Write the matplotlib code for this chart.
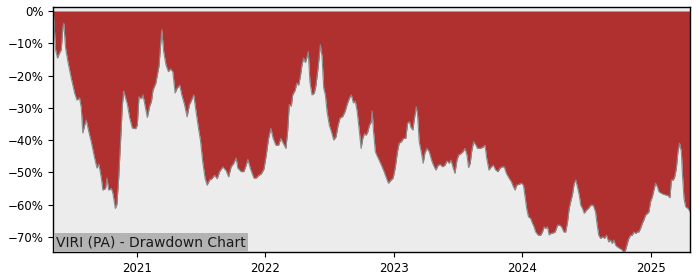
import matplotlib
matplotlib.use("Agg")
import matplotlib.pyplot as plt
from matplotlib.ticker import PercentFormatter

# Decimal-year dates and drawdown values (%)
date_years = [
    2020.349, 2020.353, 2020.369, 2020.384, 2020.400, 2020.413, 2020.426, 2020.433, 2020.447, 2020.465,
    2020.491, 2020.517, 2020.535, 2020.556, 2020.569, 2020.581, 2020.595, 2020.608, 2020.628, 2020.647,
    2020.673, 2020.691, 2020.706, 2020.725, 2020.737, 2020.758, 2020.769, 2020.782, 2020.803, 2020.815,
    2020.834, 2020.846, 2020.860, 2020.873, 2020.889, 2020.899, 2020.914, 2020.928, 2020.945, 2020.966,
    2020.992, 2021.005, 2021.018, 2021.037, 2021.049, 2021.068, 2021.083, 2021.101, 2021.115, 2021.127,
    2021.148, 2021.174, 2021.195, 2021.210, 2021.228, 2021.247, 2021.263, 2021.281, 2021.299, 2021.314,
    2021.335, 2021.351, 2021.372, 2021.392, 2021.411, 2021.423, 2021.444, 2021.462, 2021.481, 2021.496,
    2021.514, 2021.532, 2021.548, 2021.567, 2021.585, 2021.606, 2021.626, 2021.645, 2021.670, 2021.696,
    2021.715, 2021.735, 2021.754, 2021.774, 2021.787, 2021.813, 2021.834, 2021.852, 2021.865, 2021.886,
    2021.912, 2021.930, 2021.949, 2021.969, 2021.990, 2022.008, 2022.026, 2022.044, 2022.062, 2022.083,
    2022.104, 2022.122, 2022.140, 2022.161, 2022.175, 2022.187, 2022.203, 2022.214, 2022.234, 2022.245,
    2022.260, 2022.273, 2022.286, 2022.299, 2022.312, 2022.323, 2022.335, 2022.348, 2022.364, 2022.382,
    2022.395, 2022.413, 2022.429, 2022.442, 2022.455, 2022.468, 2022.481, 2022.499, 2022.518, 2022.533,
    2022.551, 2022.567, 2022.582, 2022.603, 2022.621, 2022.637, 2022.655, 2022.670, 2022.686, 2022.701,
    2022.715, 2022.733, 2022.746, 2022.759, 2022.772, 2022.785, 2022.798, 2022.811, 2022.824, 2022.832,
    2022.842, 2022.857, 2022.868, 2022.886, 2022.904, 2022.925, 2022.943, 2022.959, 2022.977, 2022.995,
    2023.011, 2023.029, 2023.042, 2023.060, 2023.076, 2023.094, 2023.107, 2023.122, 2023.133, 2023.149,
    2023.159, 2023.175, 2023.185, 2023.198, 2023.216, 2023.229, 2023.242, 2023.258, 2023.276, 2023.294,
    2023.309, 2023.328, 2023.346, 2023.362, 2023.380, 2023.398, 2023.414, 2023.432, 2023.445, 2023.463,
    2023.476, 2023.492, 2023.504, 2023.523, 2023.539, 2023.554, 2023.570, 2023.582, 2023.595, 2023.606,
    2023.621, 2023.640, 2023.652, 2023.671, 2023.691, 2023.710, 2023.723, 2023.741, 2023.759, 2023.775,
    2023.793, 2023.811, 2023.827, 2023.845, 2023.860, 2023.876, 2023.897, 2023.915, 2023.931, 2023.944,
    2023.956, 2023.975, 2023.995, 2024.009, 2024.022, 2024.034, 2024.048, 2024.065, 2024.079, 2024.092,
    2024.104, 2024.125, 2024.143, 2024.157, 2024.170, 2024.182, 2024.196, 2024.209, 2024.221, 2024.240,
    2024.256, 2024.274, 2024.292, 2024.307, 2024.323, 2024.338, 2024.352, 2024.365, 2024.377, 2024.390,
    2024.404, 2024.416, 2024.429, 2024.443, 2024.455, 2024.468, 2024.482, 2024.500, 2024.515, 2024.533,
    2024.552, 2024.570, 2024.583, 2024.595, 2024.609, 2024.627, 2024.640, 2024.655, 2024.673, 2024.687,
    2024.700, 2024.712, 2024.726, 2024.739, 2024.759, 2024.778, 2024.790, 2024.804, 2024.817, 2024.829,
    2024.843, 2024.856, 2024.868, 2024.882, 2024.895, 2024.907, 2024.920, 2024.934, 2024.946, 2024.959,
    2024.973, 2024.985, 2024.998, 2025.012, 2025.024, 2025.037, 2025.051, 2025.063, 2025.082, 2025.097,
    2025.115, 2025.133, 2025.149, 2025.160, 2025.175, 2025.186, 2025.199, 2025.211, 2025.224, 2025.238,
    2025.245, 2025.258, 2025.271, 2025.289, 2025.305,
]

drawdown_pct = [
    0.0, -1.0, -12.0, -14.6, -13.0, -12.0, -5.0, -3.8, -11.5, -15.7,
    -20.8, -25.4, -27.6, -27.0, -30.0, -37.8, -35.4, -33.8, -37.5, -40.6,
    -45.6, -48.7, -47.5, -51.8, -55.5, -55.0, -51.8, -55.5, -55.0, -56.5,
    -61.2, -60.0, -51.8, -41.6, -29.0, -24.8, -27.0, -29.0, -33.0, -36.3,
    -36.5, -35.4, -26.6, -27.2, -26.0, -30.0, -33.0, -29.5, -28.0, -24.5,
    -22.5, -17.0, -5.8, -12.6, -16.7, -18.8, -18.0, -18.8, -25.4, -24.0,
    -23.0, -26.0, -29.0, -32.8, -29.0, -28.0, -26.0, -31.2, -36.4, -40.0,
    -46.8, -51.8, -54.0, -52.4, -52.0, -50.9, -52.0, -49.8, -48.3, -49.5,
    -51.4, -48.3, -47.3, -45.6, -48.7, -49.8, -49.8, -47.8, -46.0, -49.0,
    -51.8, -51.8, -51.0, -50.5, -49.0, -44.7, -39.5, -36.4, -39.5, -41.6,
    -41.6, -39.5, -41.0, -42.6, -37.0, -29.0, -29.5, -26.0, -24.5, -22.4,
    -23.0, -20.4, -16.7, -14.6, -16.0, -14.6, -12.6, -22.0, -26.0, -25.5,
    -23.0, -17.0, -10.5, -14.0, -23.9, -26.0, -31.2, -35.4, -37.8, -40.0,
    -39.0, -35.4, -33.2, -32.7, -31.2, -29.0, -27.0, -26.0, -28.5, -28.0,
    -31.0, -37.4, -42.6, -39.5, -38.0, -38.5, -37.5, -35.4, -34.5, -31.0,
    -37.0, -43.6, -44.7, -46.2, -47.8, -49.8, -51.8, -53.4, -52.5, -51.8,
    -48.7, -43.6, -41.0, -40.5, -39.5, -39.5, -34.8, -34.3, -36.0, -36.9,
    -33.8, -29.7, -32.0, -40.5, -44.1, -47.2, -44.1, -42.6, -43.6, -46.2,
    -47.8, -49.3, -47.8, -47.6, -48.3, -47.8, -46.5, -47.2, -46.2, -48.7,
    -50.3, -46.2, -44.7, -44.2, -43.6, -42.6, -44.7, -48.5, -47.2, -43.6,
    -40.5, -41.6, -42.6, -42.6, -42.3, -41.6, -45.6, -49.3, -48.3, -47.8,
    -49.3, -49.8, -48.7, -48.3, -48.3, -50.3, -51.8, -52.9, -54.5, -55.5,
    -54.0, -53.7, -53.4, -54.0, -57.6, -61.2, -63.8, -64.3, -65.8, -66.9,
    -68.5, -69.5, -69.5, -68.5, -66.9, -67.4, -66.9, -69.4, -69.0, -68.8,
    -68.5, -66.4, -66.4, -67.0, -68.5, -68.5, -65.4, -61.2, -59.0, -57.0,
    -53.4, -52.4, -54.5, -57.0, -60.2, -61.2, -62.7, -61.7, -61.2, -60.2,
    -60.2, -62.3, -66.4, -69.5, -70.5, -70.0, -70.5, -69.5, -71.6, -71.0,
    -72.1, -71.0, -72.6, -73.1, -73.6, -74.1, -74.8, -74.1, -72.1, -70.5,
    -69.5, -69.5, -68.5, -69.0, -68.5, -68.5, -67.4, -65.8, -64.8, -63.3,
    -62.8, -62.3, -59.1, -57.6, -55.5, -53.4, -54.5, -56.0, -56.5, -56.8,
    -57.0, -57.2, -57.9, -52.4, -52.4, -51.4, -48.7, -43.6, -41.0, -43.6,
    -49.8, -58.0, -60.7, -61.2, -62.2,
]

year_ticks = [2021, 2022, 2023, 2024, 2025]
y_ticks = [0, -10, -20, -30, -40, -50, -60, -70]
title_text = "VIRI (PA) - Drawdown Chart"

fig = plt.figure(figsize=(7, 2.8), dpi=100)
ax = fig.add_axes([0.0757, 0.099, 0.91, 0.875])
ax.set_facecolor("#ececec")

ax.fill_between(date_years, drawdown_pct, 0, color="#b03030", linewidth=0)
ax.plot(date_years, drawdown_pct, color="#8a8a8a", linewidth=0.8)

ax.set_xlim(date_years[0], date_years[-1])
ax.set_ylim(min(drawdown_pct), 1.15)

ax.set_xticks(year_ticks)
ax.set_xticklabels([str(y) for y in year_ticks])
ax.set_yticks(y_ticks)
ax.yaxis.set_major_formatter(PercentFormatter(xmax=100, decimals=0))
ax.tick_params(labelsize=8.5)

for s in ax.spines.values():
    s.set_color("black")
    s.set_linewidth(1.0)

ax.annotate(title_text, xy=(0, 0), xycoords="axes fraction",
            xytext=(2.2, 1.8), textcoords="offset points",
            fontsize=10, color="#1a1a1a", ha="left", va="bottom",
            bbox=dict(boxstyle="square,pad=0.18", facecolor="#b3b3b3", edgecolor="none"))

fig.savefig("out.png", dpi=100)
